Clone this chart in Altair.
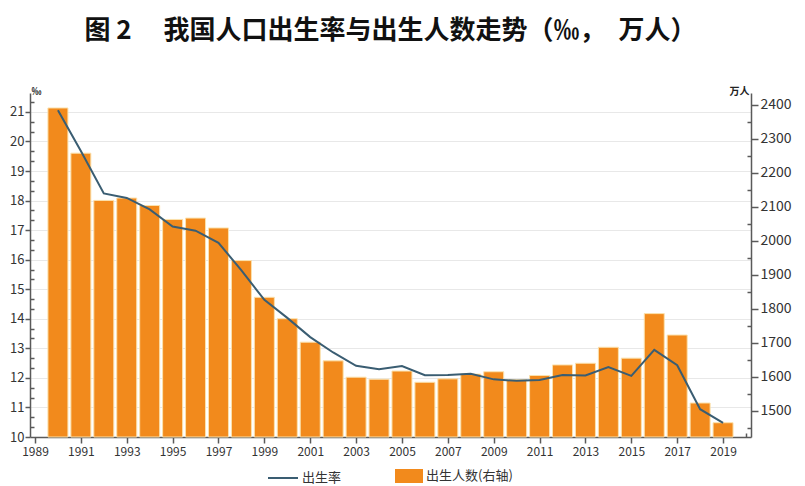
import altair as alt
import pandas as pd

years = list(range(1990, 2020))
birth_rate = [21.06, 19.68, 18.24, 18.09, 17.70, 17.12, 16.98, 16.57, 15.64, 14.64,
              14.03, 13.38, 12.86, 12.41, 12.29, 12.40, 12.09, 12.10, 12.14, 11.95,
              11.90, 11.93, 12.10, 12.08, 12.37, 12.07, 12.95, 12.43, 10.94, 10.48]
births = [2391, 2258, 2119, 2126, 2104, 2063, 2067, 2038, 1942, 1834,
          1771, 1702, 1647, 1599, 1593, 1617, 1584, 1594, 1608, 1615,
          1592, 1604, 1635, 1640, 1687, 1655, 1786, 1723, 1523, 1465]

x_ticks = list(range(1989, 2021))
left_ticks = [round(10 + i / 3, 4) for i in range(0, 35)]
right_ticks = list(range(1450, 2401, 50))

title_text = "图 2\u3000 我国人口出生率与出生人数走势（‰，\u2002万人）"
rate_name = "出生率"
births_name = "出生人数(右轴)"

FONT = "Noto Sans CJK SC"
AXIS_COLOR = "#5a5a5a"
LABEL_COLOR = "#333333"

df = pd.DataFrame({
    "year": years,
    "rate": birth_rate,
    "births": births,
    "rate_series": [rate_name] * len(years),
    "births_series": [births_name] * len(years),
})

x_enc = alt.X(
    "year:Q",
    title=None,
    scale=alt.Scale(domain=[1989, 2020], nice=False, zero=False),
    axis=alt.Axis(
        values=x_ticks,
        labelExpr="datum.value % 2 == 1 && datum.value < 2020 ? format(datum.value, 'd') : ''",
        labelOverlap=False,
        labelFlush=False,
        grid=False,
        tickSize={"expr": "datum.value % 2 == 1 ? 6 : -4"},
        labelFontSize=12,
        labelPadding=3,
    ),
)

bars = alt.Chart(df).mark_bar(size=20, stroke="#FBE2AE", strokeWidth=1).encode(
    x=x_enc,
    y=alt.Y(
        "births:Q",
        title="万人",
        scale=alt.Scale(domain=[1423, 2435], nice=False, zero=False),
        axis=alt.Axis(
            orient="right",
            values=right_ticks,
            labelExpr="datum.value % 100 == 0 ? format(datum.value, 'd') : ''",
            labelOverlap=False,
            labelFlush=False,
            grid=False,
            tickSize={"expr": "datum.value % 100 == 0 ? 7 : -4"},
            labelFontSize=14,
            labelPadding=2,
            titleAngle=0,
            titleAlign="right",
            titleBaseline="bottom",
            titleX=-2,
            titleY=3,
            titleFontSize=10,
            titleFontWeight="bold",
        ),
    ),
    y2=alt.datum(1423),
    fill=alt.Fill(
        "births_series:N",
        scale=alt.Scale(domain=[births_name], range=["#F28A1C"]),
        legend=alt.Legend(
            title=None,
            orient="none",
            legendX=365,
            legendY=369,
            symbolType="M-1,-0.5H1V0.5H-1Z",
            symbolSize=784,
            symbolStrokeWidth=0,
            symbolOpacity=1,
            labelOffset=3,
            labelFontSize=13,
            padding=0,
        ),
    ),
)

line = alt.Chart(df).mark_line(strokeWidth=2).encode(
    x=x_enc,
    y=alt.Y(
        "rate:Q",
        title="‰",
        scale=alt.Scale(domain=[10, 21.64], nice=False, zero=False),
        axis=alt.Axis(
            orient="left",
            values=left_ticks,
            labelExpr="abs(datum.value - round(datum.value)) < 0.01 ? format(datum.value, 'd') : ''",
            labelOverlap=False,
            labelFlush=False,
            grid=True,
            gridOpacity={"expr": "abs(datum.value - round(datum.value)) < 0.01 && datum.value > 10.5 ? 1 : 0"},
            tickSize={"expr": "abs(datum.value - round(datum.value)) < 0.01 ? 5 : -4"},
            labelFontSize=13,
            labelPadding=1,
            titleAngle=0,
            titleAlign="left",
            titleBaseline="bottom",
            titleX=1,
            titleY=3,
            titleFontSize=10,
            titleFontWeight="bold",
        ),
    ),
    stroke=alt.Stroke(
        "rate_series:N",
        scale=alt.Scale(domain=[rate_name], range=["#3A5D72"]),
        legend=alt.Legend(
            title=None,
            orient="none",
            legendX=237,
            legendY=369,
            symbolType="stroke",
            symbolSize=900,
            symbolStrokeWidth=2,
            labelOffset=3,
            labelFontSize=13,
            padding=0,
        ),
    ),
)

chart = (
    alt.layer(bars, line)
    .resolve_scale(y="independent", stroke="independent", fill="independent")
    .resolve_legend(stroke="independent", fill="independent")
    .properties(
        width=721,
        height=344,
        autosize=alt.AutoSizeParams(type="none"),
        padding={"left": 22, "top": 85, "right": 46, "bottom": 52},
        title=alt.Title(
            text=title_text,
            font=FONT,
            fontSize=26,
            fontWeight="bold",
            color="#111111",
            anchor="middle",
            frame="group",
            baseline="alphabetic",
            offset=21,
        ),
    )
    .configure_view(stroke=None)
    .configure_axis(
        labelFont=FONT,
        titleFont=FONT,
        labelColor=LABEL_COLOR,
        titleColor="#222222",
        domainColor=AXIS_COLOR,
        domainWidth=1.5,
        tickColor=AXIS_COLOR,
        tickWidth=1.5,
        gridColor="#e8e8e8",
        gridWidth=1,
    )
    .configure_legend(labelFont=FONT, labelColor="#333333")
)

chart.save("out.html", embed_options={"renderer": "svg", "actions": False})
